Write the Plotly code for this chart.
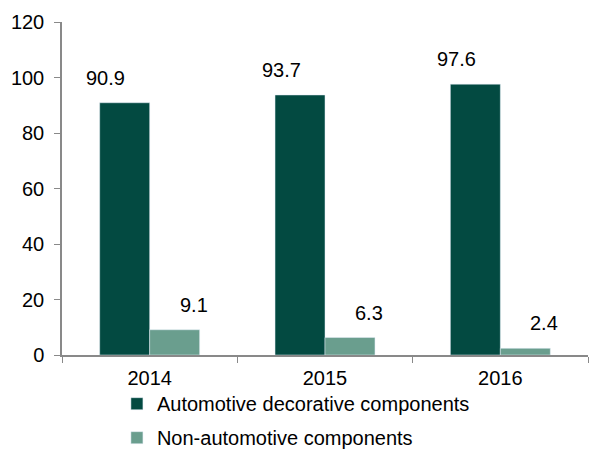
import plotly.graph_objects as go

years = ["2014", "2015", "2016"]
auto_vals = [90.9, 93.7, 97.6]
non_auto_vals = [9.1, 6.3, 2.4]
series_names = ["Automotive decorative components", "Non-automotive components"]
colors = ["#034A41", "#6A9E8E"]

FONT = "Liberation Sans, Arial"

fig = go.Figure()
fig.add_trace(go.Bar(x=years, y=auto_vals, name=series_names[0], marker_color=colors[0],
                     legendgroup="a"))
fig.add_trace(go.Bar(x=years, y=non_auto_vals, name=series_names[1], marker_color=colors[1],
                     legendgroup="b"))

# value labels above bars
for vals, off in [(auto_vals, -0.25), (non_auto_vals, 0.25)]:
    for j, v in enumerate(vals):
        fig.add_annotation(x=j + off, y=v, text=f"{v}", showarrow=False, yshift=25,
                           font=dict(size=20, color="#000000", family=FONT))

fig.update_layout(
    width=592, height=441,
    margin=dict(l=54, r=12, t=14, b=94, autoexpand=False),
    plot_bgcolor="white", paper_bgcolor="white",
    barmode="group", bargap=0.43, bargroupgap=0,
    font=dict(family=FONT, size=20, color="#000000"),
    showlegend=True,
    legend=dict(orientation="v", xref="container", yref="container",
                x=0.184, xanchor="left", y=0.147, yanchor="top",
                font=dict(size=20), tracegroupgap=5, itemwidth=30,
                bgcolor="rgba(0,0,0,0)"),
    xaxis=dict(showline=True, linecolor="#898989", linewidth=1.5, ticks="outside",
               tickcolor="#898989", ticklen=6, showgrid=False, tickson="boundaries",
               automargin=False, ticklabelstandoff=4),
    yaxis=dict(range=[0, 120], dtick=20, showline=True, linecolor="#898989", linewidth=1.5,
               ticks="outside", tickcolor="#898989", ticklen=6, showgrid=False,
               zeroline=False, automargin=False, ticklabelstandoff=6),
)

fig.write_html("out.html")
